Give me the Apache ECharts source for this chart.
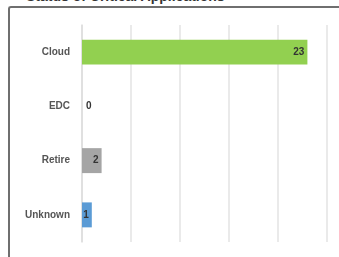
<!DOCTYPE html>
<html>
<head>
<meta charset="utf-8">
<script src="https://cdn.jsdelivr.net/npm/echarts@6/dist/echarts.min.js"></script>
<style>
body { margin:0; width:339px; height:257px; overflow:hidden; background:#fff; position:relative; font-family:"Liberation Sans", Arial, sans-serif; }
#title { position:absolute; left:26px; top:-12px; font-size:14px; font-weight:bold; color:#333; white-space:nowrap; }
#frame { position:absolute; left:8px; top:6px; width:340px; height:260px; border-left:2px solid #6f6f6f; border-top:2px solid #6f6f6f; border-top-left-radius:3px; }
#chart { position:absolute; left:0; top:0; width:339px; height:257px; }
</style>
</head>
<body>
<div id="title">Status of Critical Applications</div>
<div id="frame"></div>
<div id="chart"></div>
<script>
var categories = ['Cloud', 'EDC', 'Retire', 'Unknown'];
var values = [23, 0, 2, 1];
var barColors = ['#92d050', '#a5a5a5', '#a5a5a5', '#5b9bd5'];

var myChart = echarts.init(document.getElementById('chart'));

var data = values.map(function (v, i) {
    var item = { value: v, itemStyle: { color: barColors[i] } };
    if (v === 0) {
        item.label = { position: 'right', distance: 4 };
    }
    return item;
});

var option = {
    animation: false,
    grid: { left: 82, right: 12, top: 25, bottom: 15 },
    xAxis: {
        type: 'value',
        min: 0,
        max: 25,
        interval: 5,
        axisLabel: { show: false },
        axisLine: { show: false },
        axisTick: { show: false },
        splitLine: { lineStyle: { color: '#e3e3e3', width: 1.5 } }
    },
    yAxis: {
        type: 'category',
        inverse: true,
        data: categories,
        axisLine: { lineStyle: { color: '#dcdcdc', width: 1.5 } },
        axisTick: { show: false },
        axisLabel: { color: '#555', fontSize: 10, fontWeight: 'bold', margin: 12 }
    },
    series: [{
        type: 'bar',
        barWidth: '46%',
        data: data,
        label: {
            show: true,
            position: 'insideRight',
            distance: 3,
            color: '#333',
            fontSize: 10,
            fontWeight: 'bold'
        }
    }]
};

myChart.setOption(option);
</script>
</body>
</html>
